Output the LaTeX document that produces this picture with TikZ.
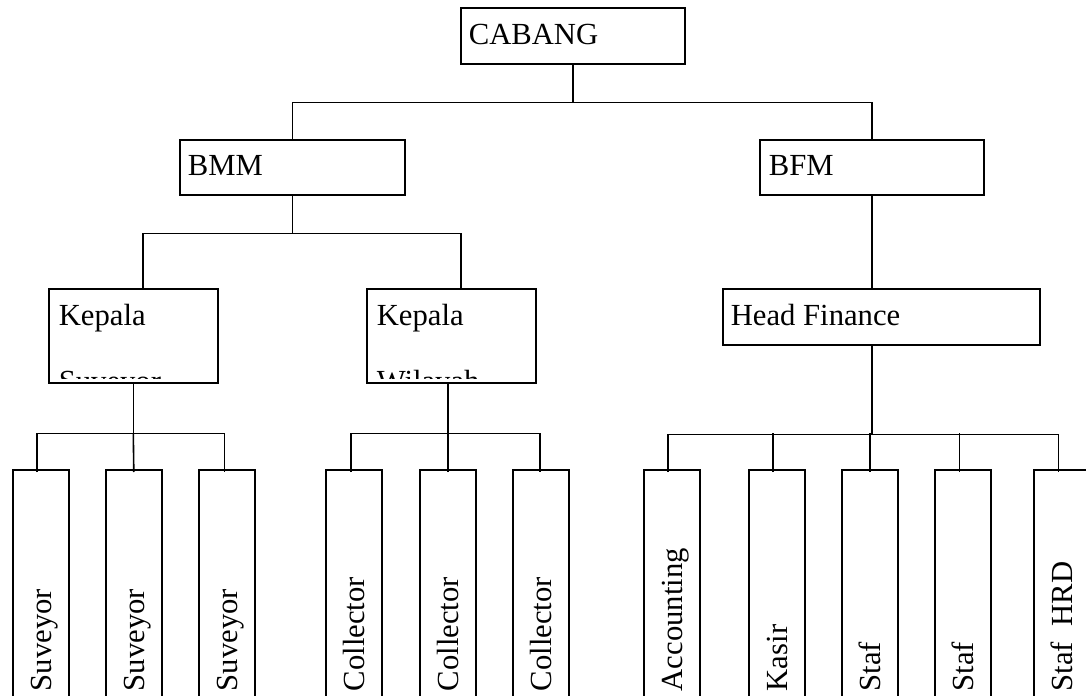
\documentclass[tikz,border=0pt]{standalone}
\usepackage{fontspec}
\setmainfont{Liberation Serif}
\usetikzlibrary{calc}
% box with its top-left corner at (#2,#3) and a size of #4 x #5 pixels
\newcommand{\orgbox}[5]{
  \node[orgunit, minimum width=#4*.75pt, minimum height=#5*.75pt] (#1) at (#2,#3) {};
}
% text whose baseline starts at (#2,#3)
\newcommand{\boxtext}[4]{
  \node[boxlabel] (#1) at (#2,#3) {#4};
}

\begin{document}
\begin{tikzpicture}[x=.75pt, y=-.75pt, line width=1.2pt,
    orgunit/.style={draw, anchor=north west, inner sep=0pt},
    boxlabel/.style={anchor=base west, inner sep=0pt,
      font=\fontsize{23}{27}\selectfont},
    uplabel/.style={boxlabel, rotate=90}
  ]
  % Size of the page, anything outside is cut off
  \clip (0,0) rectangle (1086,696);

  % Upper levels
  \orgbox{cabang}{460}{7}{224}{56}
  \boxtext{cabangtext}{468}{44}{CABANG}
  \orgbox{bmm}{179}{139}{225}{55}
  \boxtext{bmmtext}{187}{175}{BMM}
  \orgbox{bfm}{759}{139}{224}{55}
  \boxtext{bfmtext}{768}{175}{BFM}

  \orgbox{kepsurvey}{48}{288}{169}{94}
  \boxtext{kepsurveytext}{58}{325}{Kepala}
  \orgbox{kepwilayah}{366}{288}{169}{94}
  \boxtext{kepwilayahtext}{376}{325}{Kepala}
  \orgbox{headfin}{722}{288}{317}{56}
  \boxtext{headfintext}{730}{325}{Head Finance}

  % The second line of both Kepala boxes does not fit in the box
  \begin{scope}
    \clip (kepsurvey.north west) rectangle ($(kepsurvey.south east)+(0,-5)$);
    \boxtext{kepsurveyline}{58}{391}{Suveyor}
  \end{scope}
  \begin{scope}
    \clip (kepwilayah.north west) rectangle ($(kepwilayah.south east)+(0,-5)$);
    \boxtext{kepwilayahline}{376}{391}{Wilayah}
  \end{scope}

  % Staff boxes, open to the bottom of the page
  \foreach \name/\x/\txt in {sur1/12/Suveyor, sur2/105/Suveyor, sur3/198/Suveyor,
      col1/325/Collector, col2/419/Collector, col3/512/Collector,
      acc/643/Accounting, kasir/748/Kasir, staf1/841/Staf, staf2/934/Staf,
      hrd/1033/{Staf\ \ HRD}} {
    \orgbox{\name}{\x}{469}{56}{260}
    \node[uplabel] (\name text) at (\x+39,692) {\txt};
  }

  % CABANG to BMM and BFM
  \draw (cabang.south) -- ++(0,38) coordinate (bus1);
  \draw (bmm.north) |- (bus1) -| (bfm.north);

  % BMM to both Kepala, BFM to Head Finance
  \draw (bmm.south) -- ++(0,38) coordinate (bus2);
  \draw ($(kepsurvey.north)+(9.5,0)$) |- (bus2) -| ($(kepwilayah.north)+(9.5,0)$);
  \draw (bfm.south) -- (bfm.south |- headfin.north);

  % Kepala to their staff
  \draw (kepsurvey.south) -- ++(0,50) coordinate (bus3);
  \draw ($(sur1.north)+(-4,3)$) |- (bus3) -| ($(sur3.north)+(-2.5,3)$);
  \draw ($(sur2.north)+(0,3)$) -- (bus3);
  \draw ($(kepwilayah.south)+(-3.5,0)$) -- ++(0,50) coordinate (bus4);
  \draw ($(col1.north)+(-3,3)$) |- (bus4) -| ($(col3.north)+(-1,3)$);
  \draw ($(col2.north)+(0,3)$) -- (bus4);

  % Head Finance to its staff
  \draw ($(headfin.south)+(-9.5,0)$) -- ++(0,89) coordinate (bus5);
  \draw ($(acc.north)+(-4,3)$) |- (bus5) -| ($(hrd.north)+(-3.5,3)$);
  \foreach \name/\dx in {kasir/-4, staf1/0, staf2/-3.5}
    \draw ($(\name.north)+(\dx,3)$) -- ++(0,-39);
\end{tikzpicture}
\end{document}
